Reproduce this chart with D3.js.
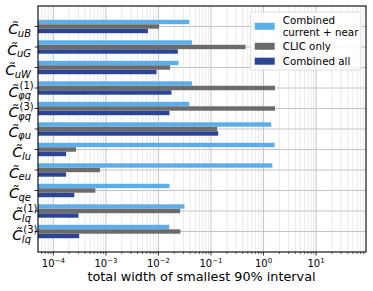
<!DOCTYPE html>
<html>
<head>
<meta charset="utf-8">
<script src="https://cdn.jsdelivr.net/npm/d3@7"></script>
<style>
body { margin: 0; background: #fff; }
text { font-family: "DejaVu Sans", sans-serif; }
</style>
</head>
<body>
<svg id="chart" width="373" height="291"></svg>
<script>
// operator labels: subscript and optional superscript
var label_sub = ["uB", "uG", "uW", "φq", "φq", "φu", "lu", "eu", "qe", "lq", "lq"]
var label_sup = ["", "", "", "(1)", "(3)", "", "", "", "", "(1)", "(3)"]

// widths
var combined_near = [0.0385, 0.0433, 0.024, 0.0433, 0.0385, 1.40, 1.62, 1.47, 0.0162, 0.0313, 0.0160]
var clic_only     = [0.0103, 0.454, 0.0167, 1.65, 1.65, 0.131, 0.00027, 0.00077, 0.00063, 0.0259, 0.0262]
var combined_all  = [0.0063, 0.0234, 0.0092, 0.0177, 0.0162, 0.137, 0.000175, 0.000175, 0.00025, 0.00030, 0.00031]

var series_names = ["Combined\ncurrent + near", "CLIC only", "Combined all"]
var series_colors = ["#5caeea", "#6b6b6b", "#2b4594"]
var x_ticks = [1e-4, 1e-3, 1e-2, 1e-1, 1e0, 1e1]
var x_tick_exp = ["−4", "−3", "−2", "−1", "0", "1"]

var p_left = 38, p_right = 366, p_top = 6, p_bottom = 252

var svg = d3.select("#chart")

var x = d3.scaleLog().domain([5.1e-5, 89]).range([p_left, p_right])
var y = d3.scaleLinear().domain([-1, 11]).range([p_top, p_bottom])

var g_grid = svg.append("g")
var g_bars = svg.append("g")
var g_axis = svg.append("g")

// minor grid
var minor = []
for (var e = -5; e <= 1; e++) {
    for (var m = 2; m <= 9; m++) {
        var v = m * Math.pow(10, e)
        if (v > x.domain()[0] && v < x.domain()[1]) minor.push(v)
    }
}
g_grid.selectAll(".minor").data(minor).enter().append("line")
    .attr("x1", d => x(d)).attr("x2", d => x(d))
    .attr("y1", p_top).attr("y2", p_bottom)
    .style("stroke", "#e4e4e4").style("stroke-width", 0.8)

g_grid.selectAll(".major").data(x_ticks).enter().append("line")
    .attr("x1", d => x(d)).attr("x2", d => x(d))
    .attr("y1", p_top).attr("y2", p_bottom)
    .style("stroke", "#c4c4c4").style("stroke-width", 1)

g_grid.selectAll(".hrow").data(label_sub).enter().append("line")
    .attr("x1", p_left).attr("x2", p_right)
    .attr("y1", (d, i) => y(i)).attr("y2", (d, i) => y(i))
    .style("stroke", "#c4c4c4").style("stroke-width", 1)

// bars
var all_series = [combined_near, clic_only, combined_all]
var bar_h = y(0.215) - y(0)
var offsets = [-0.22, 0, 0.22]
all_series.forEach(function(vals, s) {
    g_bars.selectAll(".s" + s).data(vals).enter().append("rect")
        .attr("class", "s" + s)
        .attr("x", p_left)
        .attr("y", (d, i) => y(i + offsets[s]) - bar_h / 2)
        .attr("width", d => x(d) - p_left)
        .attr("height", bar_h)
        .style("fill", series_colors[s])
})

// frame
svg.append("rect")
    .attr("x", p_left).attr("y", p_top)
    .attr("width", p_right - p_left).attr("height", p_bottom - p_top)
    .style("fill", "none").style("stroke", "#000").style("stroke-width", 1.1)

// x ticks
g_axis.selectAll(".xt").data(x_ticks).enter().append("line")
    .attr("x1", d => x(d)).attr("x2", d => x(d))
    .attr("y1", p_bottom).attr("y2", p_bottom + 3.5)
    .style("stroke", "#000").style("stroke-width", 0.8)
g_axis.selectAll(".xm").data(minor).enter().append("line")
    .attr("x1", d => x(d)).attr("x2", d => x(d))
    .attr("y1", p_bottom).attr("y2", p_bottom + 2)
    .style("stroke", "#000").style("stroke-width", 0.6)

x_ticks.forEach(function(t, i) {
    var lab = g_axis.append("text")
        .attr("x", x(t)).attr("y", p_bottom + 15)
        .attr("text-anchor", "middle")
        .style("font-size", "10px")
    lab.append("tspan").text("10")
    lab.append("tspan").attr("dy", -4.5).style("font-size", "7px").text(x_tick_exp[i])
})

svg.append("text")
    .attr("x", (p_left + p_right) / 2 - 0.5).attr("y", 281)
    .attr("text-anchor", "middle")
    .style("font-size", "12.8px")
    .text("total width of smallest 90% interval")

// y ticks and labels
label_sub.forEach(function(sub, i) {
    var ty = y(i)
    g_axis.append("line")
        .attr("x1", p_left - 3.5).attr("x2", p_left)
        .attr("y1", ty).attr("y2", ty)
        .style("stroke", "#000").style("stroke-width", 0.8)

    var has_sup = label_sup[i] != ""
    var base = has_sup ? ty + 8.5 : ty + 7.5
    var sub_t = g_axis.append("text")
        .attr("x", 31).attr("y", base + 2.5)
        .attr("text-anchor", "end")
        .style("font-size", "10px").style("font-style", "italic")
        .text(sub)
    var w = sub_t.node().getComputedTextLength()
    g_axis.append("text")
        .attr("x", 31 - w + 0.5).attr("y", base)
        .attr("text-anchor", "end")
        .style("font-size", "14.5px").style("font-style", "italic")
        .text("C\u0303")
    if (has_sup) {
        g_axis.append("text")
            .attr("x", 31 - w + 1.5).attr("y", base - 7.5)
            .style("font-size", "10px")
            .text(label_sup[i])
    }
})

// legend
var leg = svg.append("g")
leg.append("rect")
    .attr("x", 250.5).attr("y", 12).attr("width", 110.5).attr("height", 58).attr("rx", 2)
    .style("fill", "#fff").style("fill-opacity", 0.85)
    .style("stroke", "#d6d6d6").style("stroke-width", 0.8)
var leg_y = [26.3, 46.3, 61.2]
series_names.forEach(function(name, s) {
    leg.append("rect")
        .attr("x", 254.7).attr("y", leg_y[s] - 3.5)
        .attr("width", 20).attr("height", 7)
        .style("fill", series_colors[s])
    var lines = name.split("\n")
    var t = leg.append("text")
        .attr("x", 282.7)
        .attr("y", leg_y[s] + 3.6 - (lines.length - 1) * 5.6)
        .style("font-size", "10.3px")
    lines.forEach(function(l, k) {
        t.append("tspan").attr("x", 282.7).attr("dy", k == 0 ? 0 : 11.2).text(l)
    })
})
</script>
</body>
</html>
